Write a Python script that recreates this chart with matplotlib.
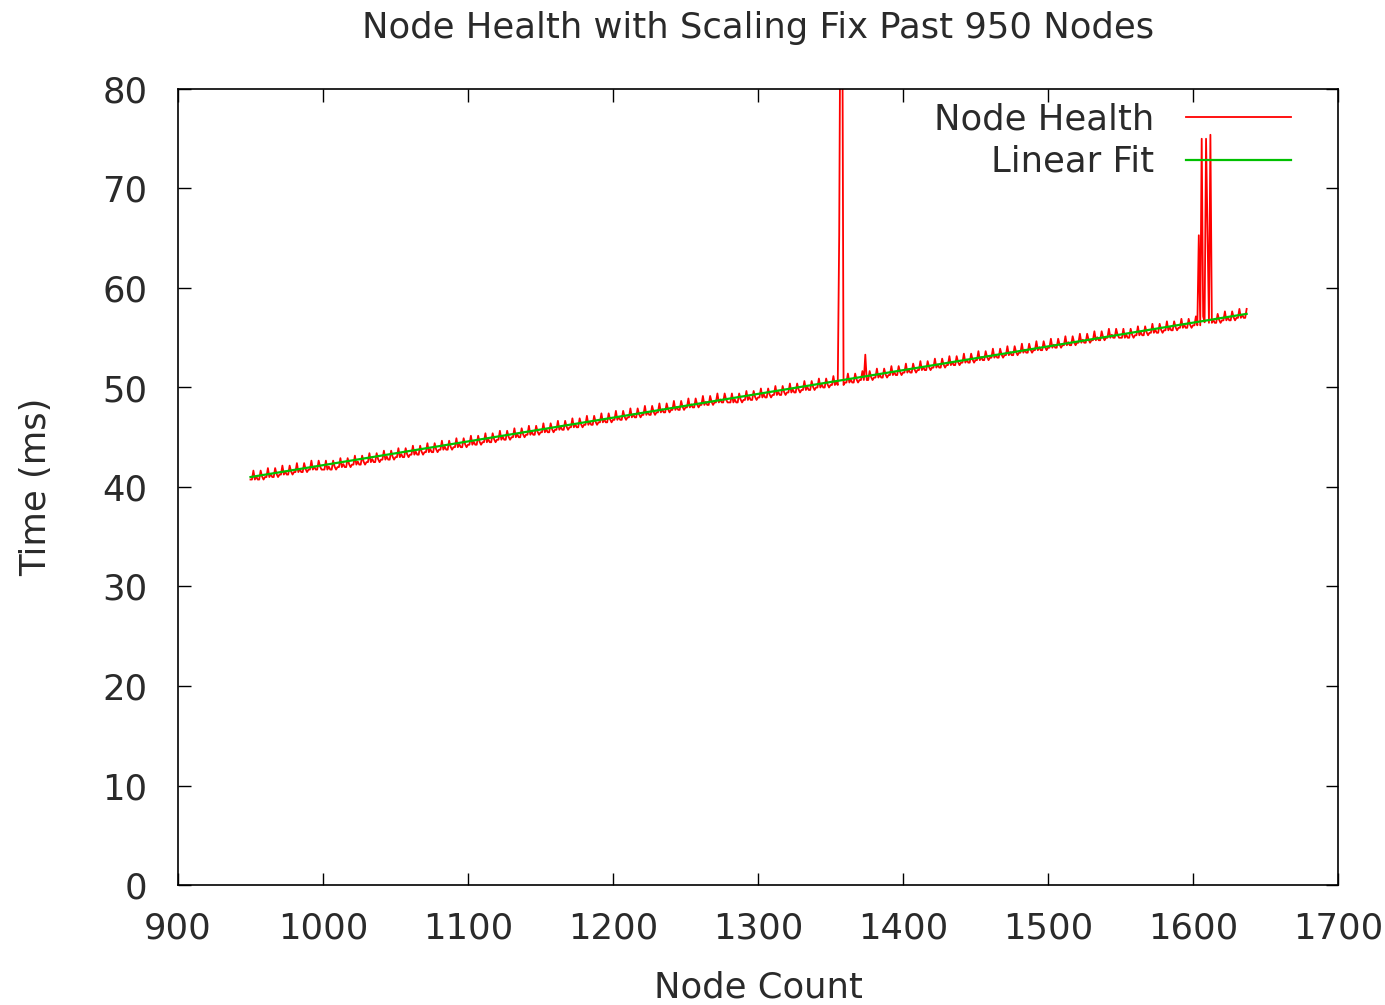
import numpy as np
import matplotlib.pyplot as plt

# node health baseline, one value per block of 10 nodes starting at 950 (ms)
block_start = 950
block_base = [40.75, 41.0, 41.25, 41.5, 41.75, 41.75, 42.0, 42.25, 42.5, 42.75,
              43.0, 43.25, 43.5, 43.75, 44.0, 44.25, 44.5, 44.75, 45.0, 45.25,
              45.5, 45.75, 46.0, 46.25, 46.5, 46.75, 47.0, 47.25, 47.5, 47.75,
              48.0, 48.25, 48.5, 48.5, 48.75, 49.0, 49.25, 49.5, 49.75, 50.0,
              50.25, 50.5, 50.75, 51.0, 51.25, 51.5, 51.75, 52.0, 52.25, 52.5,
              52.75, 53.0, 53.25, 53.5, 53.75, 54.0, 54.25, 54.5, 54.75, 55.0,
              55.0, 55.25, 55.5, 55.75, 56.0, 56.25, 56.5, 56.75, 57.0]
# small jitter seen inside every block
block_ticks = [0.0, 0.0, 0.9, 0.0, 0.3, 0.0, 0.0, 0.9, 0.3, 0.0]
last_node = 1637

# the big outliers (node, ms)
spike_nodes = [1356, 1357, 1358, 1374, 1604, 1606, 1609, 1610, 1612]
spike_vals = [65.3, 95.0, 95.0, 53.3, 65.3, 75.0, 75.0, 66.0, 75.4]

# linear fit end points
fit_x = [950, 1637]
fit_y = [41.0, 57.4]

nodes = np.arange(block_start, block_start + 10 * len(block_base))
health = np.repeat(block_base, 10) + np.tile(block_ticks, len(block_base))
keep = nodes <= last_node
nodes = nodes[keep]
health = health[keep]
for n, v in zip(spike_nodes, spike_vals):
    health[nodes == n] = v

fs = 25.5
txt = '#2a2a2a'

fig = plt.figure(figsize=(13.85, 10.05), dpi=100)
ax = fig.add_axes([178/1385, 1 - 885/1005, 1160/1385, 796/1005])

ax.plot(nodes, health, color='#ff0000', lw=1.3, label='Node Health', zorder=2)
ax.plot(fit_x, fit_y, color='#00c000', lw=1.6, label='Linear Fit', zorder=3)

ax.set_xlim(900, 1700)
ax.set_ylim(0, 80)
ax.set_xticks(np.arange(900, 1701, 100))
ax.set_yticks(np.arange(0, 81, 10))
ax.tick_params(direction='in', length=9, width=1, top=True, right=True,
               labelsize=fs, colors='black')
ax.tick_params(axis='x', pad=19)
ax.tick_params(axis='y', pad=22)
for label in ax.get_xticklabels() + ax.get_yticklabels():
    label.set_color(txt)
for s in ax.spines.values():
    s.set_linewidth(1.2)

ax.set_title('Node Health with Scaling Fix Past 950 Nodes', fontsize=fs,
             color=txt, pad=37)
ax.set_xlabel('Node Count', fontsize=fs, color=txt, labelpad=18)
ax.set_ylabel('Time (ms)', fontsize=fs, color=txt, labelpad=35)

leg = ax.legend(loc='upper right', markerfirst=False, frameon=False,
                fontsize=fs, handlelength=2.97, handletextpad=0.9,
                labelspacing=0.25, borderaxespad=0, borderpad=0.37,
                bbox_to_anchor=(0.9707, 1.0))
for t in leg.get_texts():
    t.set_color(txt)

fig.savefig('out.png', dpi=100)
